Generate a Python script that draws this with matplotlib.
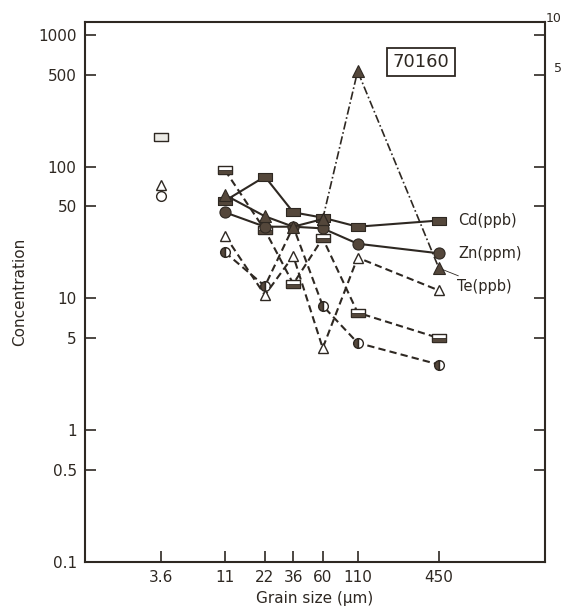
import matplotlib
matplotlib.use('Agg')
import matplotlib.pyplot as plt
from matplotlib.ticker import FixedLocator, FixedFormatter, NullLocator

# ---------------- data ----------------
grain_size = [11, 22, 36, 60, 110, 450]
fine_size = [3.6]

cd_a = [55, 84, 45, 41, 35, 39]        # filled squares, solid
zn_a = [45, 35, 35, 34, 26, 22]        # filled circles, solid
te_a = [61, 42, 35, 40, 530, 17]       # filled triangles, solid then dash-dot

cd_b = [94, 33, 12.9, 28.6, 7.8, 5.0]  # open squares, dashed
zn_b = [22.4, 12.4, 35, 8.8, 4.6, 3.15]  # open circles, dashed
te_b = [30, 10.6, 21, 4.2, 20.4, 11.5]   # open triangles, dashed

cd_fine = [167]
zn_fine = [60]
te_fine = [72.5]

y_ticks = [0.1, 0.5, 1, 5, 10, 50, 100, 500, 1000]
y_tick_labels = ['0.1', '0.5', '1', '5', '10', '50', '100', '500', '1000']
x_ticks = [3.6, 11, 22, 36, 60, 110, 450]
x_tick_labels = ['3.6', '11', '22', '36', '60', '110', '450']
series_labels = ['Cd(ppb)', 'Zn(ppm)', 'Te(ppb)']
sample_id = '70160'

# ---------------- style ----------------
INK = '#2e2822'
FILL = '#54473b'
rect = [(-1, -0.6), (1, -0.6), (1, 0.6), (-1, 0.6), (-1, -0.6)]
half_rect = [(-1, -0.6), (1, -0.6), (1, 0.0), (-1, 0.0), (-1, -0.6)]

fig = plt.figure(figsize=(5.63, 6.06), dpi=100)
ax = fig.add_axes([0.151, 0.0726, 0.817, 0.891])
ax.set_xscale('log')
ax.set_yscale('log')
ax.set_xlim(0.97, 2840)
ax.set_ylim(0.1, 1250)

lw = 1.5
dash = (3.5, 2.0)
dashdot = (5.0, 1.6, 1.0, 1.6)

# dashed (open marker) series
ax.plot(grain_size, cd_b, color=INK, lw=lw, dashes=dash, marker=rect,
        ms=10, mfc='white', mec=INK, mew=1.0, zorder=2)
ax.plot(grain_size, cd_b, ls='none', marker=half_rect, ms=10,
        mfc=FILL, mec=INK, mew=0.6, zorder=2.1)
ax.plot(grain_size, zn_b, color=INK, lw=lw, dashes=dash, marker='o',
        ms=7, fillstyle='left', mfc=FILL, mfcalt='white', mec=INK, mew=1.0, zorder=2)
ax.plot(grain_size, te_b, color=INK, lw=lw, dashes=dash, marker='^',
        ms=7, mfc='white', mec=INK, mew=1.0, zorder=2)

# solid (filled marker) series
ax.plot(grain_size, cd_a, color=INK, lw=lw, marker=rect, ms=10,
        mfc=FILL, mec=INK, mew=0.8, zorder=3)
ax.plot(grain_size, zn_a, color=INK, lw=lw, marker='o', ms=8,
        mfc=FILL, mec=INK, mew=0.8, zorder=3)
ax.plot(grain_size[:4], te_a[:4], color=INK, lw=lw, marker='^', ms=8,
        mfc=FILL, mec=INK, mew=0.8, zorder=3)
ax.plot(grain_size[3:], te_a[3:], color=INK, lw=1.2, dashes=dashdot,
        marker='^', ms=8, mfc=FILL, mec=INK, mew=0.8, zorder=3)

# isolated fine-fraction points
ax.plot(fine_size, cd_fine, ls='none', marker=rect, ms=10, mfc='#ecebe6',
        mec=INK, mew=1.0)
ax.plot(fine_size, zn_fine, ls='none', marker='o', ms=7, mfc='white',
        mec=INK, mew=1.0)
ax.plot(fine_size, te_fine, ls='none', marker='^', ms=7, mfc='white',
        mec=INK, mew=1.0)

# series labels
ax.annotate(series_labels[0], xy=(grain_size[-1], cd_a[-1]), xytext=(14, 0),
            textcoords='offset points', va='center', ha='left',
            fontsize=10.5, color=INK)
ax.annotate(series_labels[1], xy=(grain_size[-1], zn_a[-1]), xytext=(14, 0),
            textcoords='offset points', va='center', ha='left',
            fontsize=10.5, color=INK)
ax.annotate(series_labels[2], xy=(grain_size[-1], te_a[-1]), xytext=(13, -13),
            textcoords='offset points', va='center', ha='left',
            fontsize=10.5, color=INK,
            arrowprops=dict(arrowstyle='-', lw=0.6, color=INK,
                            shrinkA=0, shrinkB=3))

# sample id box
ax.text(0.731, 0.926, sample_id, transform=ax.transAxes, ha='center',
        va='center', fontsize=13, color=INK,
        bbox=dict(boxstyle='square,pad=0.3', fc='white', ec=INK, lw=1.3))

# axes / ticks
ax.yaxis.set_major_locator(FixedLocator(y_ticks))
ax.yaxis.set_major_formatter(FixedFormatter(y_tick_labels))
ax.yaxis.set_minor_locator(NullLocator())
ax.xaxis.set_major_locator(FixedLocator(x_ticks))
ax.xaxis.set_major_formatter(FixedFormatter(x_tick_labels))
ax.xaxis.set_minor_locator(NullLocator())
ax.tick_params(axis='both', which='major', direction='in', length=8,
               width=1.2, color=INK, labelsize=11, labelcolor=INK, pad=6)
ax.tick_params(axis='y', right=True, left=True)
ax.tick_params(axis='x', top=False)
for s in ax.spines.values():
    s.set_linewidth(1.5)
    s.set_color(INK)

ax.set_ylabel('Concentration', fontsize=11, color=INK, labelpad=8)
ax.set_xlabel('Grain size (\u03bcm)', fontsize=11, color=INK, labelpad=4)

# tick labels of the neighbouring panel at the right edge
fig.text(562 / 563, 1 - 18 / 606, '10', fontsize=9, color=INK,
         ha='right', va='center')
fig.text(562 / 563, 1 - 68 / 606, '5', fontsize=9, color=INK,
         ha='right', va='center')

fig.savefig('out.png', dpi=100)
